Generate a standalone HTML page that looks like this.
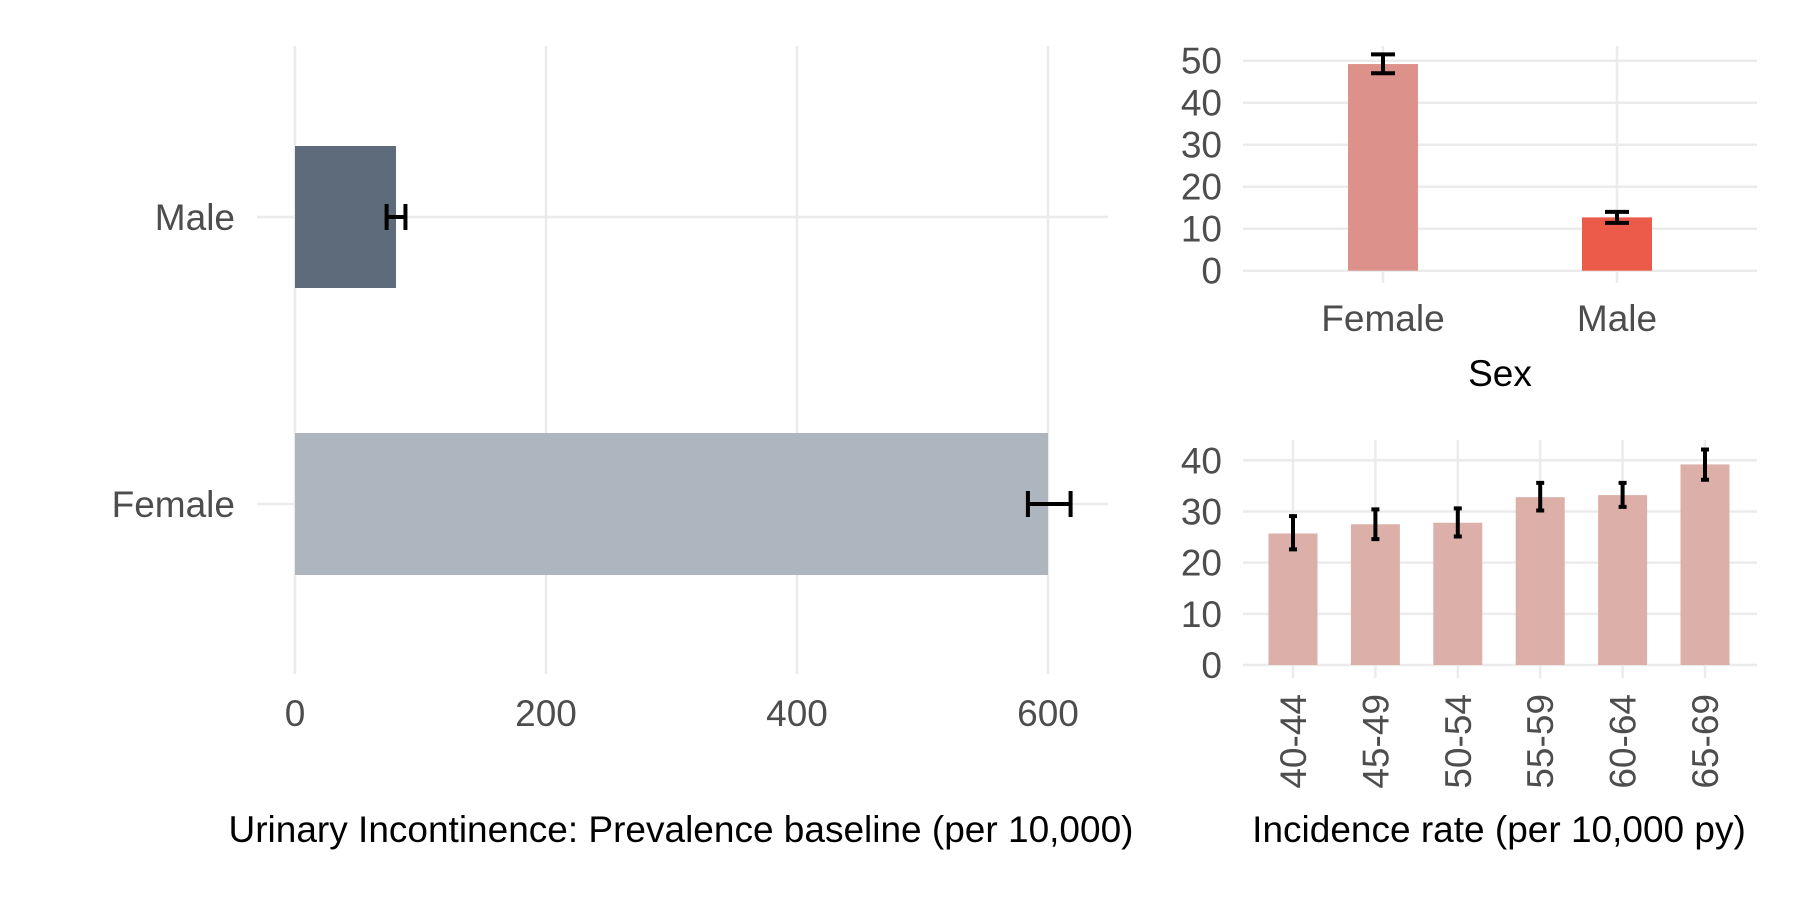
<!DOCTYPE html>
<html><head><meta charset="utf-8"><style>
html,body{margin:0;padding:0;background:#fff}
svg{display:block;font-family:"Liberation Sans",Arial,sans-serif}
</style></head><body>
<svg id="chart" width="1800" height="900" viewBox="0 0 1800 900" xmlns="http://www.w3.org/2000/svg"></svg>
<script>
const prevCats = ["Male","Female"];
const prevVals = [80.5, 600];
const prevLo = [73, 584];
const prevHi = [88, 618];
const prevTicks = [0,200,400,600];

const sexCats = ["Female","Male"];
const sexVals = [49.2, 12.7];
const sexLo = [47.0, 11.4];
const sexHi = [51.5, 14.0];
const sexTicks = [0,10,20,30,40,50];

const ageCats = ["40-44","45-49","50-54","55-59","60-64","65-69"];
const ageVals = [25.7, 27.5, 27.8, 32.8, 33.2, 39.2];
const ageLo = [22.6, 24.6, 25.1, 30.2, 30.9, 36.2];
const ageHi = [29.1, 30.4, 30.6, 35.6, 35.6, 42.1];
const ageTicks = [0,10,20,30,40];

const NS="http://www.w3.org/2000/svg";
const svg=document.getElementById('chart');
function mk(tag,attrs,parent,text){const e=document.createElementNS(NS,tag);for(const k in attrs)e.setAttribute(k,attrs[k]);if(text!==undefined)e.textContent=text;(parent||svg).appendChild(e);return e;}
const GRID="#ebebeb", TICKC="#4d4d4d", FS=37;

// ---------- Left panel: prevalence ----------
const L={x0:257,x1:1108,y0:46,y1:674};
const px=v=>295+v*(1048-295)/600;
const pyC={Male:217,Female:504};
const gL=mk('g',{});


prevTicks.forEach(t=>{
  const l=mk('line',{x1:px(t),x2:px(t),y1:L.y0,y2:L.y1,stroke:GRID,'stroke-width':2.5},gL);
  
  const tx=mk('text',{x:px(t),y:726,'text-anchor':'middle','font-size':FS,fill:TICKC},gL,String(t));
  
});
prevCats.forEach((c,i)=>{
  const y=pyC[c];
  const g=mk('line',{x1:L.x0,x2:L.x1,y1:y,y2:y,stroke:GRID,'stroke-width':2.5},gL);
  
  const b=mk('rect',{x:px(0),y:y-71,width:px(prevVals[i])-px(0),height:142,fill:c==="Male"?"#5d6b7b":"#adb5be"},gL);
  
  const e=mk('path',{d:`M${px(prevLo[i])},${y-13}V${y+13}M${px(prevHi[i])},${y-13}V${y+13}M${px(prevLo[i])},${y}H${px(prevHi[i])}`,stroke:'#000','stroke-width':4,fill:'none'},gL);
  
  const lb=mk('text',{x:235,y:y+13,'text-anchor':'end','font-size':FS,fill:TICKC},gL,c);
  
});
const t1=mk('text',{x:681,y:842,'text-anchor':'middle','font-size':FS,fill:'#000'},svg,'Urinary Incontinence: Prevalence baseline (per 10,000)');


// ---------- Top right: by sex ----------
const S={x0:1243,x1:1757,yTop:46,yBot:283};
const sy=v=>270.7-v*(270.7-60.7)/50;
const sxC=[1383,1617];
const gS=mk('g',{});


sexCats.forEach((c,i)=>{
  const l=mk('line',{x1:sxC[i],x2:sxC[i],y1:S.yTop,y2:S.yBot,stroke:GRID,'stroke-width':2.5},gS);
  
});
sexTicks.forEach(t=>{
  const l=mk('line',{x1:S.x0,x2:S.x1,y1:sy(t),y2:sy(t),stroke:GRID,'stroke-width':2.5},gS);
  
  const tx=mk('text',{x:1222,y:sy(t)+13,'text-anchor':'end','font-size':FS,fill:TICKC},gS,String(t));
  
});
sexCats.forEach((c,i)=>{
  const b=mk('rect',{x:sxC[i]-35,y:sy(sexVals[i]),width:70,height:sy(0)-sy(sexVals[i]),fill:c==="Female"?"#dc928a":"#ec5b4a"},gS);
  
  const x=sxC[i];
  const e=mk('path',{d:`M${x-12},${sy(sexHi[i])}H${x+12}M${x-12},${sy(sexLo[i])}H${x+12}M${x},${sy(sexHi[i])}V${sy(sexLo[i])}`,stroke:'#000','stroke-width':4,fill:'none'},gS);
  
  const lb=mk('text',{x:x,y:331,'text-anchor':'middle','font-size':FS,fill:TICKC},gS,c);
  
});
const t2=mk('text',{x:1500,y:386,'text-anchor':'middle','font-size':FS,fill:'#000'},svg,'Sex');


// ---------- Bottom right: by age ----------
const A={x0:1243,x1:1757,yTop:440,yBot:678};
const ay=v=>665-v*(665-460.3)/40;
const ax=i=>1293+i*82.4;
const gA=mk('g',{});


ageCats.forEach((c,i)=>{
  const l=mk('line',{x1:ax(i),x2:ax(i),y1:A.yTop,y2:A.yBot,stroke:GRID,'stroke-width':2.5},gA);
  
});
ageTicks.forEach(t=>{
  const l=mk('line',{x1:A.x0,x2:A.x1,y1:ay(t),y2:ay(t),stroke:GRID,'stroke-width':2.5},gA);
  
  const tx=mk('text',{x:1222,y:ay(t)+13,'text-anchor':'end','font-size':FS,fill:TICKC},gA,String(t));
  
});
ageCats.forEach((c,i)=>{
  const x=ax(i);
  const b=mk('rect',{x:x-24.5,y:ay(ageVals[i]),width:49,height:ay(0)-ay(ageVals[i]),fill:'#dcb0a9'},gA);
  
  const e=mk('path',{d:`M${x-4},${ay(ageHi[i])}H${x+4}M${x-4},${ay(ageLo[i])}H${x+4}M${x},${ay(ageHi[i])}V${ay(ageLo[i])}`,stroke:'#000','stroke-width':4,fill:'none'},gA);
  
  const lb=mk('text',{x:0,y:0,'text-anchor':'end','font-size':FS,fill:TICKC,transform:`translate(${x+13},${694}) rotate(-90)`},gA,c);
  
});
const t3=mk('text',{x:1499,y:842,'text-anchor':'middle','font-size':FS,fill:'#000'},svg,'Incidence rate (per 10,000 py)');

</script>
</body></html>
